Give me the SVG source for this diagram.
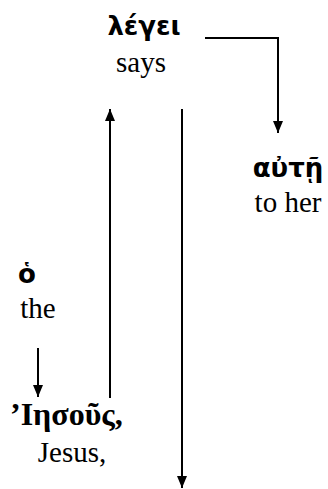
<svg xmlns="http://www.w3.org/2000/svg" width="328" height="489" viewBox="0 0 328 489">
<defs>
<style>
.gr{font-family:"DejaVu Sans","Noto Sans",sans-serif;font-weight:bold;font-size:26px;fill:#000}
.grs{font-family:"Liberation Serif","Times New Roman",serif;font-weight:bold;font-size:32px;fill:#000}
.en{font-family:"Liberation Serif","Times New Roman",serif;font-size:29px;fill:#000;text-anchor:middle}
.ln{fill:none;stroke:#000;stroke-width:2;marker-end:url(#ah)}
</style>
<marker id="ah" markerUnits="userSpaceOnUse" markerWidth="12" markerHeight="12" viewBox="0 0 12 10" refX="12" refY="5" orient="auto">
<path d="M0,0 L12,5 L0,10 z" fill="#000"/>
</marker>
</defs>
<g id="connectors">
<path class="ln" d="M205,38 H278 V133"/>
<path class="ln" d="M110,398 V109"/>
<path class="ln" d="M182,109 V488"/>
<path class="ln" d="M38,348 V397"/>
</g>
<g id="legei">
<text class="gr" x="144" y="35" text-anchor="middle">λέγει</text>
<text class="en" x="141" y="72">says</text>
</g>
<g id="aute">
<text class="gr" x="288" y="177" text-anchor="middle">αὐτῇ</text>
<text class="en" x="288" y="212">to her</text>
</g>
<g id="ho">
<text class="gr" x="27" y="283" text-anchor="middle">ὁ</text>
<text class="en" x="38" y="318">the</text>
</g>
<g id="iesous">
<text class="grs" x="10" y="425">’Ιησοῦς,</text>
<text class="en" x="72" y="462">Jesus,</text>
</g>
</svg>
